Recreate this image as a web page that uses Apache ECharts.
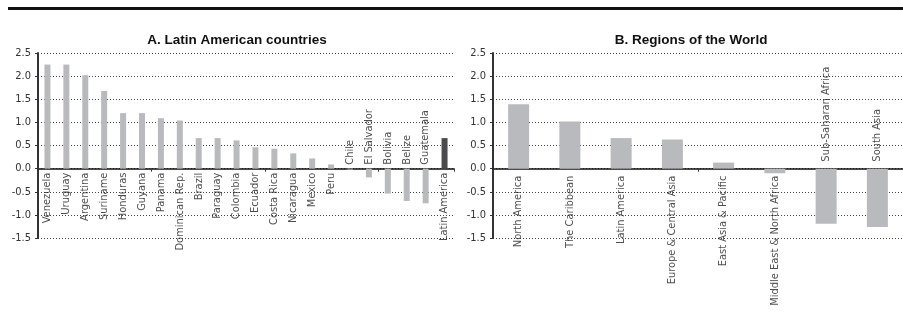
<!DOCTYPE html>
<html>
<head>
<meta charset="utf-8">
<script src="https://cdn.jsdelivr.net/npm/echarts@6/dist/echarts.min.js"></script>
<style>
  html, body { margin: 0; padding: 0; background: #fff; }
  #charts { width: 903px; height: 317px; }
</style>
</head>
<body>
<div id="charts"></div>
<script>
// panel A
var latCats = ['Venezuela', 'Uruguay', 'Argentina', 'Suriname', 'Honduras', 'Guyana', 'Panama',
    'Dominican Rep.', 'Brazil', 'Paraguay', 'Colombia', 'Ecuador', 'Costa Rica', 'Nicaragua',
    'Mexico', 'Peru', 'Chile', 'El Salvador', 'Bolivia', 'Belize', 'Guatemala', 'Latin America'];
var latVals = [2.25, 2.25, 2.02, 1.68, 1.20, 1.20, 1.09, 1.04, 0.66, 0.66, 0.61, 0.46, 0.43, 0.33,
    0.22, 0.09, -0.02, -0.19, -0.54, -0.70, -0.75, 0.66];
var latHighlight = ['Latin America'];
var latAbove = ['Chile', 'El Salvador', 'Bolivia', 'Belize', 'Guatemala'];

// panel B
var regCats = ['North America', 'The Caribbean', 'Latin America', 'Europe & Central Asia',
    'East Asia & Pacific', 'Middle East & North Africa', 'Sub-Saharan Africa', 'South Asia'];
var regVals = [1.39, 1.02, 0.66, 0.63, 0.13, -0.10, -1.19, -1.26];
var regAbove = ['Sub-Saharan Africa', 'South Asia'];

var yTicks = { min: -1.5, max: 2.5, step: 0.5 };

var FONT = "'Liberation Sans Narrow', 'DejaVu Sans Condensed', sans-serif";
var BAR = '#b9babd';
var DARK = '#4b4b4d';

function barData(cats, vals, hl) {
    return vals.map(function(v, i) {
        var d = { value: v };
        if (hl && hl.indexOf(cats[i]) >= 0) d.itemStyle = { color: DARK };
        return d;
    });
}

// names go under the axis, except where the bar hangs down far enough
function labelData(cats, above, gap) {
    return cats.map(function(c) {
        var up = above.indexOf(c) >= 0;
        return {
            value: 0,
            name: c,
            label: {
                position: up ? 'top' : 'bottom',
                align: up ? 'left' : 'right',
                verticalAlign: 'middle',
                distance: gap
            }
        };
    });
}

function yAxis(idx) {
    return {
        type: 'value', gridIndex: idx,
        min: yTicks.min, max: yTicks.max, interval: yTicks.step,
        axisLine: { show: true, lineStyle: { color: '#333', width: 2 } },
        axisTick: { show: true, length: 3, lineStyle: { color: '#333' } },
        axisLabel: { color: '#333', fontSize: 11, fontFamily: FONT, margin: 7,
            formatter: function(v) { return v.toFixed(1); } },
        splitLine: { show: true, lineStyle: { color: '#444', type: [1, 2], width: 1 } }
    };
}

function xAxis(idx, cats) {
    return {
        type: 'category', gridIndex: idx, data: cats,
        axisLine: { onZero: true, lineStyle: { color: '#111', width: 1.5 } },
        axisTick: { show: true, length: 3, lineStyle: { color: '#333' } },
        axisLabel: { show: false },
        splitLine: { show: false }
    };
}

function nameSeries(idx, cats, above, gap) {
    return {
        type: 'scatter', xAxisIndex: idx, yAxisIndex: idx,
        symbolSize: 0, silent: true, z: 5,
        data: labelData(cats, above, gap),
        label: {
            show: true, rotate: 90, formatter: '{b}',
            color: '#222', fontSize: 11, fontFamily: FONT
        }
    };
}

var myChart = echarts.init(document.getElementById('charts'));
var option = {
    animation: false,
    textStyle: { fontFamily: FONT },
    graphic: [
        { type: 'rect', shape: { x: 8, y: 7, width: 895, height: 3 }, style: { fill: '#111' } }
    ],
    title: [
        { text: 'A. Latin American countries', left: 232, top: 28, textAlign: 'center',
          textStyle: { fontSize: 13.5, fontWeight: 'bold', color: '#111', fontFamily: 'Liberation Sans' } },
        { text: 'B. Regions of the World', left: 686, top: 28, textAlign: 'center',
          textStyle: { fontSize: 13.5, fontWeight: 'bold', color: '#111', fontFamily: 'Liberation Sans' } }
    ],
    grid: [
        { left: 38, top: 53, width: 416, height: 185 },
        { left: 493, top: 53, width: 414, height: 185 }
    ],
    xAxis: [xAxis(0, latCats), xAxis(1, regCats)],
    yAxis: [yAxis(0), yAxis(1)],
    series: [
        { type: 'bar', xAxisIndex: 0, yAxisIndex: 0, barWidth: 6,
          itemStyle: { color: BAR }, data: barData(latCats, latVals, latHighlight) },
        { type: 'bar', xAxisIndex: 1, yAxisIndex: 1, barWidth: 21,
          itemStyle: { color: BAR }, data: barData(regCats, regVals) },
        nameSeries(0, latCats, latAbove, 4),
        nameSeries(1, regCats, regAbove, 7)
    ]
};
myChart.setOption(option);
</script>
</body>
</html>
